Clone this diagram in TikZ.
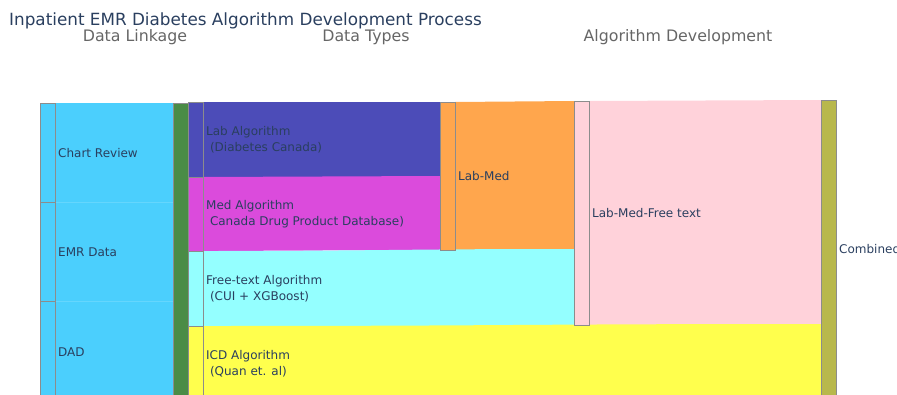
\documentclass[tikz,border=0pt]{standalone}
\usepackage{fontspec}
\setmainfont{DejaVu Sans}
\definecolor{ttl}{HTML}{2A3F5F}
\definecolor{hdr}{HTML}{666666}
\definecolor{cLight}{HTML}{4BCFFD}
\definecolor{cGreen}{HTML}{4A8C46}
\definecolor{cLab}{HTML}{4C4CB8}
\definecolor{cMed}{HTML}{DB4BDC}
\definecolor{cFree}{HTML}{94FFFF}
\definecolor{cICD}{HTML}{FFFF4D}
\definecolor{cLM}{HTML}{FFA64D}
\definecolor{cLMF}{HTML}{FFD2DA}
\definecolor{cComb}{HTML}{B8B84C}
\tikzset{
  nodebar/.style={draw=black!45, line width=0.5pt},
  lbl/.style={text=ttl, font=\fontsize{12}{16}\selectfont, anchor=west, align=left, inner sep=0pt},
  hd/.style={text=hdr, font=\fontsize{15.8}{18}\selectfont, inner sep=0pt, anchor=base}
}
\newcommand{\ind}{\hspace*{3.8pt}}
\begin{document}
\begin{tikzpicture}[x=1pt,y=-1pt]
\useasboundingbox (0,0) rectangle (897,394);
\clip (0,0) rectangle (897,394);
% links
\fill[cLight] (55,103) .. controls (114,103) and (114,103) .. (173,103) -- (173,400) .. controls (114,400) and (114,400) .. (55,400) -- cycle;
\fill[cLab] (203,102) .. controls (321,102) and (321,102) .. (440,102) -- (440,176.5) .. controls (321,176.5) and (321,177.5) .. (203,177.5) -- cycle;
\fill[cMed] (203,177) .. controls (321,177) and (321,176) .. (440,176) -- (440,250) .. controls (321,250) and (321,251) .. (203,251) -- cycle;
\fill[cLM] (455,102) .. controls (514,102) and (514,101) .. (574,101) -- (574,249) .. controls (514,249) and (514,250) .. (455,250) -- cycle;
\fill[cFree] (203,251) .. controls (388,251) and (388,249) .. (574,249) -- (574,325.5) .. controls (388,325.5) and (388,326.5) .. (203,326.5) -- cycle;
\fill[cLMF] (589,101) .. controls (705,101) and (705,100) .. (821,100) -- (821,324.5) .. controls (705,324.5) and (705,325.5) .. (589,325.5) -- cycle;
\fill[cICD] (203,326) .. controls (512,326) and (512,324) .. (821,324) -- (821,400) -- (203,400) -- cycle;
% faint boundaries in the light band
\draw[white, opacity=0.15, line width=0.5pt] (55,202) -- (173,202) (55,301) -- (173,301);
% nodes
\filldraw[fill=cLight, nodebar] (40,103) rectangle (55,202);
\filldraw[fill=cLight, nodebar] (40,202) rectangle (55,301);
\filldraw[fill=cLight, nodebar] (40,301) rectangle (55,400);
\filldraw[fill=cGreen, nodebar] (173,103) rectangle (188,400);
\filldraw[fill=cLab, nodebar] (188,102) rectangle (203,177);
\filldraw[fill=cMed, nodebar] (188,177) rectangle (203,251);
\filldraw[fill=cFree, nodebar] (188,251) rectangle (203,326);
\filldraw[fill=cICD, nodebar] (188,326) rectangle (203,400);
\filldraw[fill=cLM, nodebar] (440,102) rectangle (455,250);
\filldraw[fill=cLMF, nodebar] (574,101) rectangle (589,325);
\filldraw[fill=cComb, nodebar] (821,100) rectangle (836,400);
% labels
\node[lbl] (tcr) at (58,153) {Chart Review};
\node[lbl] (temr) at (58,252) {EMR Data};
\node[lbl] (tdad) at (58,352) {DAD};
\node[lbl] (tlab) at (206,140) {Lab Algorithm\\\ind(Diabetes Canada)};
\node[lbl] (tmed) at (206,214.5) {Med Algorithm\\\ind Canada Drug Product Database)};
\node[lbl] (tfree) at (206,289) {Free-text Algorithm\\\ind(CUI + XGBoost)};
\node[lbl] (ticd) at (206,364) {ICD Algorithm\\\ind(Quan et. al)};
\node[lbl] (tlm) at (458,176) {Lab-Med};
\node[lbl] (tlmf) at (592,213) {Lab-Med-Free text};
\node[lbl] (tcomb) at (839,249) {Combined};
% titles
\node[text=ttl, font=\fontsize{16.8}{20}\selectfont, anchor=base west, inner sep=0pt] (title) at (9,25) {Inpatient EMR Diabetes Algorithm Development Process};
\node[hd] (h1) at (135,41.5) {Data Linkage};
\node[hd] (h2) at (366,41.5) {Data Types};
\node[hd] (h3) at (678,41.5) {Algorithm Development};
\end{tikzpicture}
\end{document}
